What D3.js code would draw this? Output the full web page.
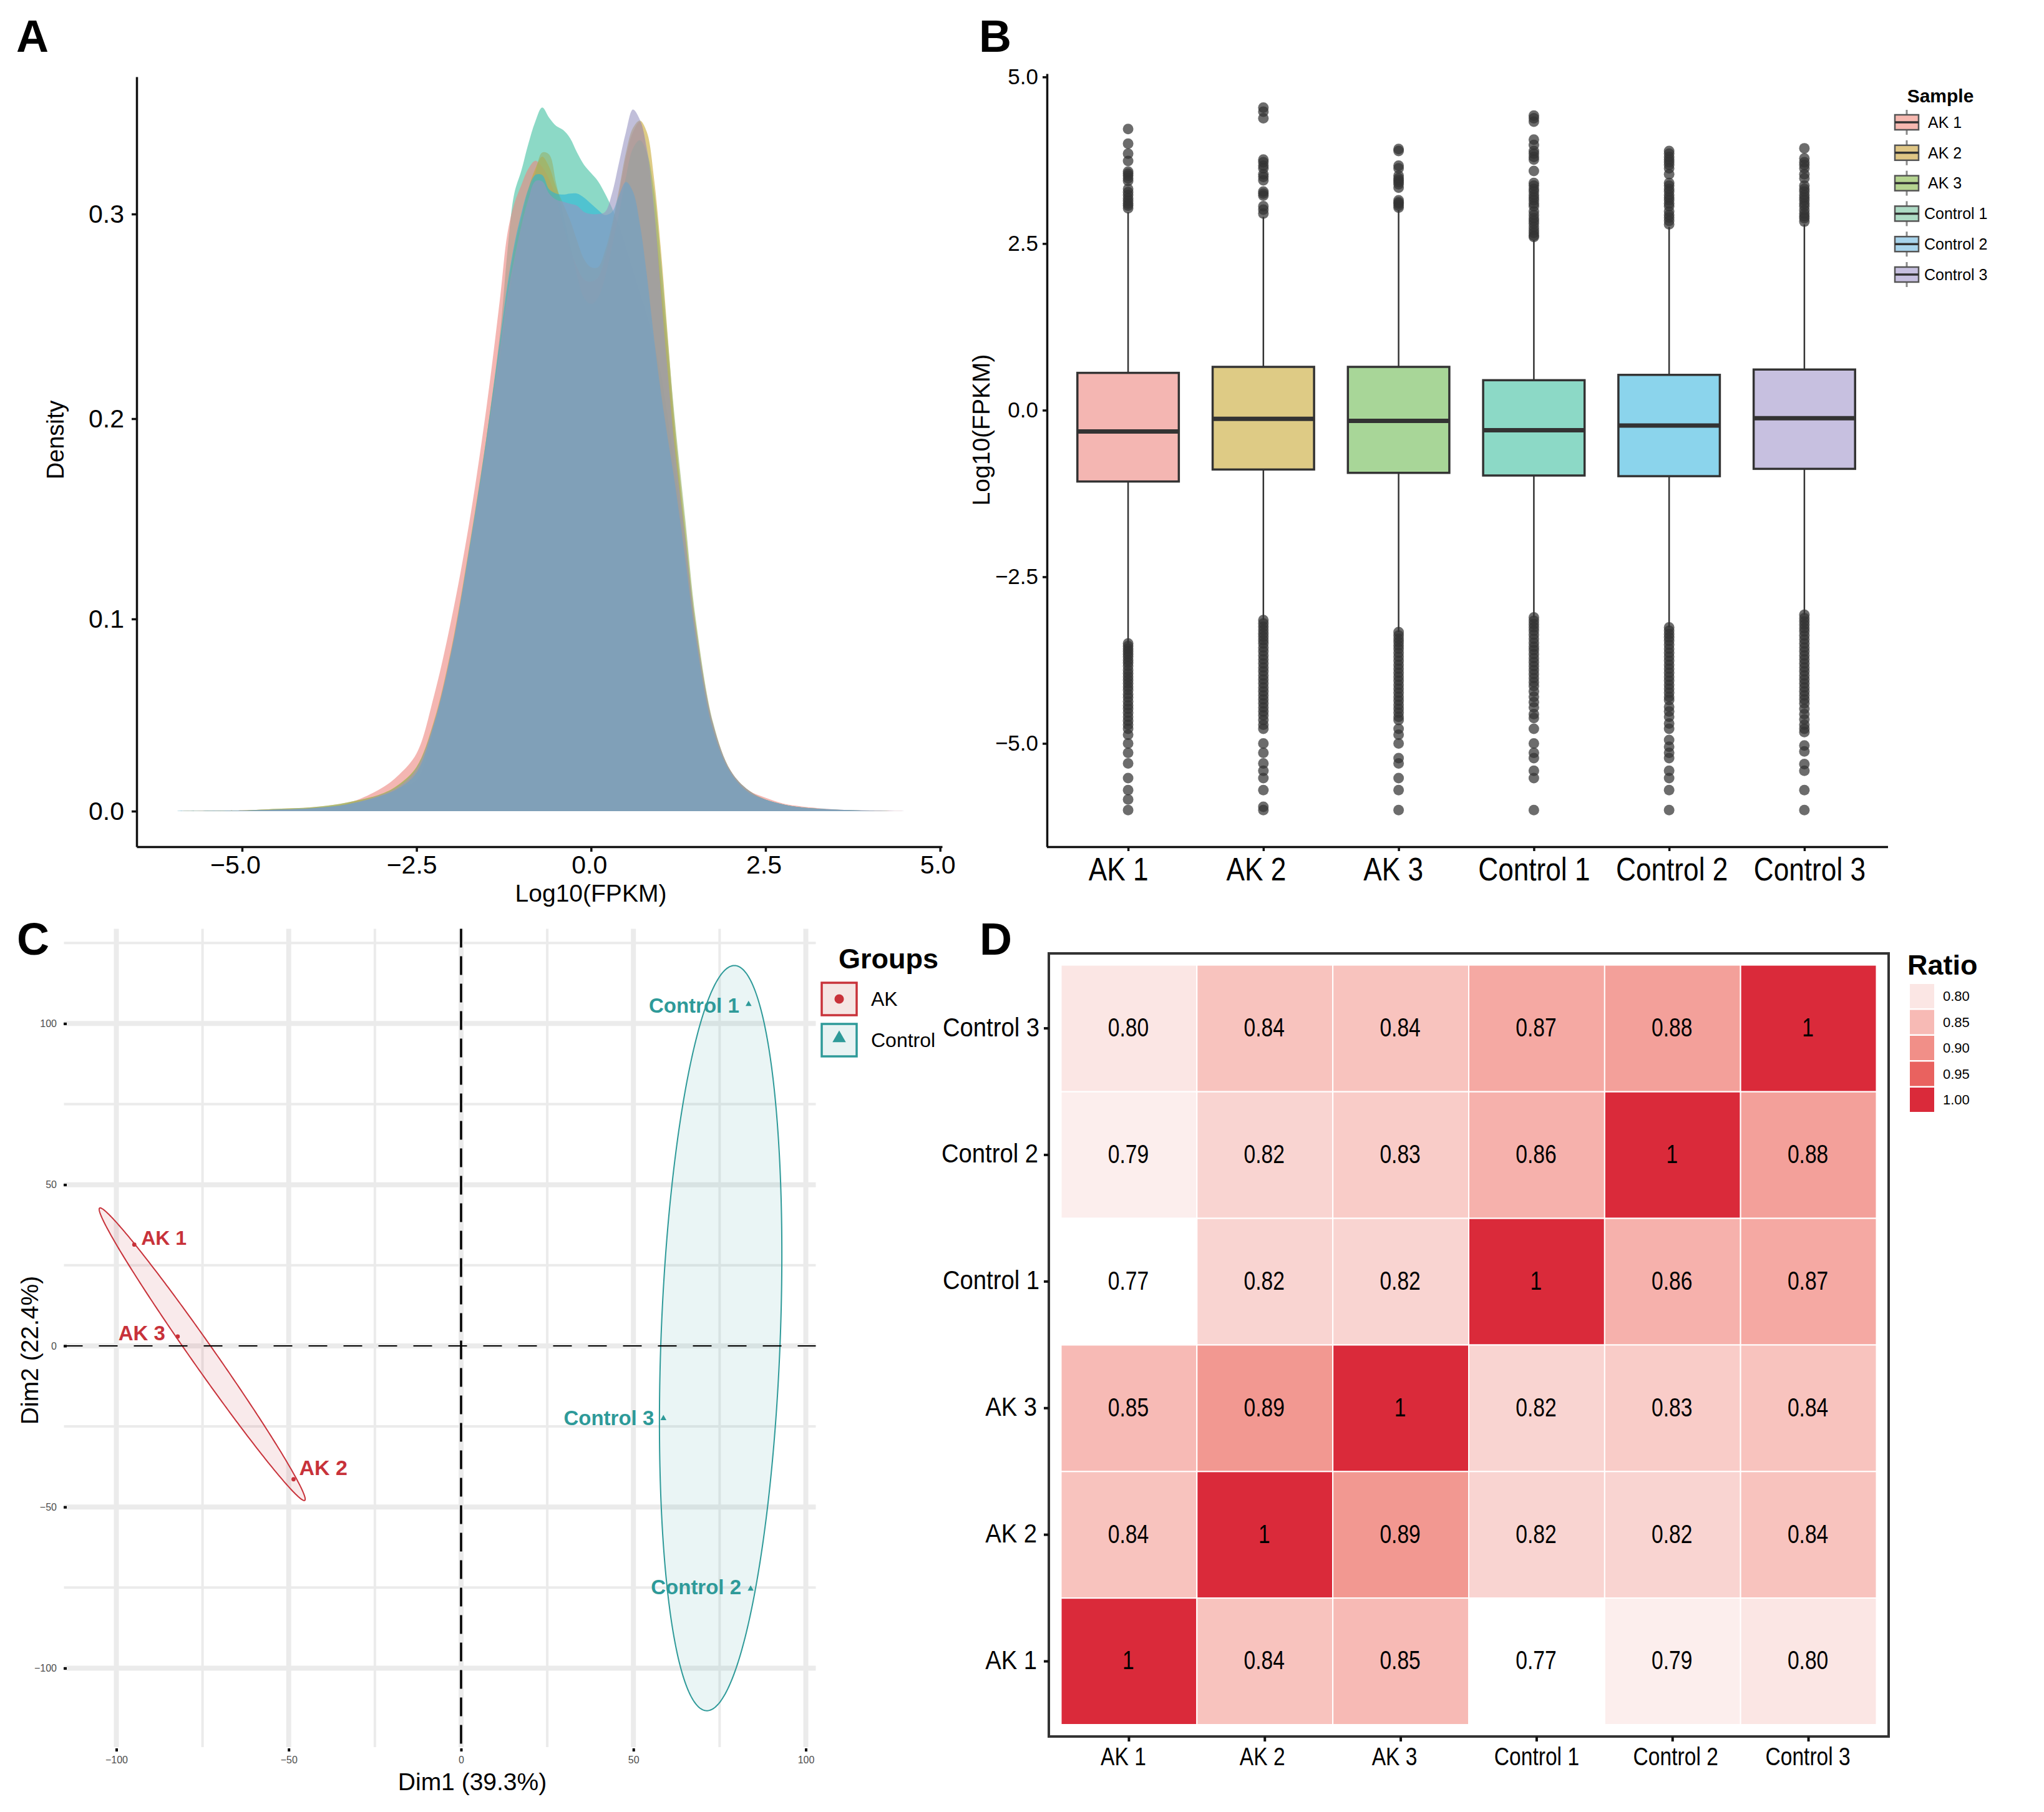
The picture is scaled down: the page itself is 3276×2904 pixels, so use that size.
<!DOCTYPE html>
<html>
<head>
<meta charset="utf-8">
<script src="https://cdn.jsdelivr.net/npm/d3@7"></script>
<style>
  body { margin: 0; background: #fff; }
  svg { display: block; font-family: "Liberation Sans", Arial, sans-serif; }
  text { fill: #000; }
</style>
</head>
<body>
<svg id="fig" width="3276" height="2904"></svg>
<script>
// samples, shared by panels A, B and D
const samples = ["AK 1", "AK 2", "AK 3", "Control 1", "Control 2", "Control 3"];
const densityColors = ["#ed857f", "#c8a834", "#96b26c", "#3fc0a0", "#28b4d7", "#9895c2"];
const sampleColors = ["#e96d65", "#bd970b", "#51ad31", "#19b38d", "#17a9d9", "#8f81c1"];
const legendColors = ["#f6b8b0", "#dfc685", "#b5d491", "#aedbc5", "#a8d4ec", "#c7c0e0"];

// panel A, density curves
const densityX = [-6,-5,-4.5,-4,-3.5,-3,-2.75,-2.5,-2.25,-2,-1.75,-1.5,-1.3,-1.2,-1.1,-1,-.9,-.8,-.7,-.6,-.5,-.4,-.3,-.2,-.1,0,.1,.2,.3,.4,.5,.6,.7,.8,.9,1,1.1,1.2,1.35,1.5,1.75,2,2.25,2.5,2.75,3,3.5,4,4.5];
const densityAK1 = [0,.0004,.001,.0017,.004,.012,.019,.03,.06,.1,.147,.205,.26,.29,.305,.314,.322,.326,.323,.317,.308,.295,.283,.274,.268,.267,.269,.279,.293,.31,.328,.34,.345,.33,.302,.268,.232,.192,.14,.095,.045,.021,.011,.007,.004,.0025,.0009,.0003,0];
const densityAK2 = [0,.0004,.0012,.002,.0045,.009,.014,.023,.047,.085,.135,.19,.238,.262,.283,.298,.312,.322,.328,.323,.313,.305,.297,.287,.278,.274,.274,.282,.295,.312,.33,.342,.3456,.34,.318,.283,.24,.197,.145,.097,.045,.021,.011,.006,.0035,.002,.0007,.0002,0];
const densityAK3 = [0,.0004,.0012,.002,.0045,.009,.014,.023,.046,.083,.132,.186,.23,.253,.275,.293,.307,.32,.33,.329,.315,.3,.285,.27,.259,.256,.259,.269,.284,.3,.318,.332,.336,.33,.312,.278,.238,.2,.15,.1,.046,.021,.011,.006,.0035,.002,.0007,.0002,0];
const densityC1 = [0,.0003,.0008,.0015,.0035,.008,.012,.016,.042,.08,.13,.19,.243,.281,.31,.321,.334,.345,.352,.347,.343,.341,.337,.33,.324,.32,.316,.31,.303,.294,.283,.272,.261,.25,.237,.222,.2,.175,.135,.09,.042,.02,.01,.006,.0035,.002,.0007,.0002,0];
const densityC2 = [0,.0003,.0008,.0015,.0035,.008,.012,.02,.045,.083,.134,.19,.24,.265,.285,.3,.312,.319,.319,.312,.31,.3095,.31,.31,.308,.305,.302,.2995,.301,.309,.3157,.311,.295,.27,.24,.213,.19,.168,.13,.09,.042,.02,.01,.006,.0035,.002,.0008,.0002,0];
const densityC3 = [0,.0003,.0008,.0015,.0035,.0085,.013,.022,.046,.084,.133,.188,.236,.26,.278,.294,.307,.316,.316,.31,.307,.306,.305,.304,.301,.3,.3,.301,.31,.325,.34,.351,.346,.332,.304,.262,.222,.185,.14,.095,.045,.021,.011,.006,.0035,.002,.0008,.0003,0];
const densitySeries = [densityAK1, densityAK2, densityAK3, densityC1, densityC2, densityC3];
const densityOrder = [3, 0, 1, 2, 4, 5];

// panel B, box stats: q3, median, q1, upper whisker, lower whisker
const boxQ3 = [.56, .65, .65, .45, .53, .61];
const boxMedian = [-.32, -.13, -.16, -.3, -.23, -.12];
const boxQ1 = [-1.07, -.89, -.94, -.98, -.99, -.88];
const whiskerTop = [2.97, 2.9, 3.0, 2.55, 2.75, 2.79];
const whiskerBottom = [-3.5, -3.15, -3.33, -3.11, -3.26, -3.07];

const outliersAK1 = [4.22,4,3.85,3.74,3.58,3.55,3.52,3.48,3.44,3.32,3.27,3.23,3.18,3.14,3.1,3.07,3.03,-3.5,-3.54,-3.58,-3.62,-3.66,-3.7,-3.75,-3.79,-3.84,-3.9,-3.95,-4,-4.05,-4.1,-4.15,-4.2,-4.26,-4.31,-4.37,-4.43,-4.48,-4.54,-4.6,-4.66,-4.72,-4.78,-4.87,-5,-5.14,-5.3,-5.52,-5.7,-5.84,-6];
const outliersAK2 = [4.54,4.48,4.38,3.76,3.72,3.67,3.63,3.54,3.5,3.45,3.28,3.25,3.22,3.06,3.01,2.95,-3.15,-3.2,-3.25,-3.3,-3.35,-3.4,-3.45,-3.5,-3.56,-3.62,-3.68,-3.74,-3.8,-3.86,-3.92,-3.98,-4.04,-4.1,-4.16,-4.22,-4.28,-4.34,-4.4,-4.46,-4.52,-4.58,-4.65,-4.72,-4.78,-5,-5.14,-5.3,-5.41,-5.52,-5.7,-5.95,-6];
const outliersAK3 = [3.92,3.89,3.67,3.63,3.52,3.48,3.45,3.42,3.39,3.34,3.15,3.12,3.1,3.07,3.04,-3.33,-3.38,-3.43,-3.48,-3.53,-3.58,-3.64,-3.7,-3.76,-3.82,-3.88,-3.94,-4,-4.06,-4.12,-4.18,-4.24,-4.3,-4.36,-4.42,-4.48,-4.54,-4.6,-4.65,-4.78,-4.87,-5,-5.22,-5.3,-5.52,-5.7,-6];
const outliersC1 = [4.42,4.38,4.33,4.06,3.98,3.89,3.85,3.8,3.76,3.59,3.41,3.37,3.32,3.28,3.23,3.19,3.15,3.1,3.06,2.98,2.93,2.88,2.84,2.8,2.75,2.7,2.66,2.62,2.6,-3.11,-3.16,-3.21,-3.26,-3.31,-3.37,-3.43,-3.49,-3.55,-3.6,-3.66,-3.72,-3.78,-3.84,-3.9,-3.96,-4.02,-4.08,-4.14,-4.22,-4.3,-4.38,-4.46,-4.56,-4.62,-4.78,-5,-5.14,-5.22,-5.41,-5.52,-6];
const outliersC2 = [3.89,3.85,3.8,3.76,3.72,3.68,3.63,3.54,3.41,3.37,3.32,3.28,3.23,3.19,3.15,3.1,3.06,2.98,2.93,2.89,2.84,2.79,-3.26,-3.31,-3.36,-3.41,-3.46,-3.52,-3.58,-3.64,-3.7,-3.76,-3.82,-3.88,-3.94,-4,-4.06,-4.12,-4.18,-4.24,-4.3,-4.35,-4.45,-4.52,-4.6,-4.7,-4.78,-4.95,-5.05,-5.14,-5.22,-5.41,-5.52,-5.7,-6];
const outliersC3 = [3.93,3.78,3.72,3.68,3.63,3.54,3.48,3.37,3.32,3.28,3.23,3.19,3.15,3.1,3.06,3,2.95,2.91,2.88,2.83,-3.07,-3.12,-3.17,-3.22,-3.27,-3.32,-3.38,-3.44,-3.5,-3.56,-3.62,-3.68,-3.74,-3.8,-3.86,-3.92,-3.98,-4.04,-4.1,-4.16,-4.22,-4.28,-4.34,-4.4,-4.48,-4.56,-4.64,-4.72,-4.78,-4.83,-5.03,-5.12,-5.31,-5.41,-5.7,-6];
const outlierSeries = [outliersAK1, outliersAK2, outliersAK3, outliersC1, outliersC2, outliersC3];

// panel C, PCA scores
const pcaNames = ["AK 1", "AK 2", "AK 3", "Control 1", "Control 2", "Control 3"];
const pcaDim1 = [-94.8, -48.6, -82.2, 83.4, 84, 58.7];
const pcaDim2 = [31.4, -41.4, 2.9, 106, -75.4, -22.5];
const pcaGroups = ["AK", "AK", "AK", "Control", "Control", "Control"];
const groupNames = ["AK", "Control"];
const groupColors = ["#c8323a", "#2e9a99"];
const groupFills = ["#f5e5e3", "#e8f3f3"];
// ellipse: centre, vector to the highest point, half of the horizontal chord through the centre
const ellipseCx = [-75.1, 75.3];
const ellipseCy = [-2.6, 2.4];
const ellipseTopDx = [-29.6, 4];
const ellipseTopDy = [45.4, 115.6];
const ellipseChord = [4.1, 17.3];
const gridMajor = [-100, -50, 0, 50, 100];
const gridMinor = [-75, -25, 25, 75];
const gridMinorY = [-75, -25, 25, 75, 125];

// panel D, correlation matrix, rows follow samples from the bottom up
const rowAK1 = [1, .84, .85, .77, .79, .80];
const rowAK2 = [.84, 1, .89, .82, .82, .84];
const rowAK3 = [.85, .89, 1, .82, .83, .84];
const rowC1 = [.77, .82, .82, 1, .86, .87];
const rowC2 = [.79, .82, .83, .86, 1, .88];
const rowC3 = [.80, .84, .84, .87, .88, 1];
const ratioRows = [rowAK1, rowAK2, rowAK3, rowC1, rowC2, rowC3];
const ratioBreaks = [.77, .8, .85, .9, .95, 1];
const ratioColors = ["#ffffff", "#fbe6e4", "#f7bab5", "#f18f88", "#e9625f", "#da2a3a"];
const ratioLegend = [.8, .85, .9, .95, 1];

const svg = d3.select("#fig");

function panelLetter(t, x, y) {
  svg.append("text").attr("x", x).attr("y", y).attr("font-size", 72).attr("font-weight", "bold").text(t);
}
panelLetter("A", 26, 83);
panelLetter("B", 1569, 83);
panelLetter("C", 27, 1530);
panelLetter("D", 1570, 1530);

// squeezes axis labels sideways, the source panels were resized unevenly
function fitLabels(g, size, k, y, dxs) {
  g.selectAll(".tick text")
    .attr("font-size", size)
    .attr("x", 0)
    .attr("y", y)
    .attr("dy", "0.32em")
    .attr("transform", (d, i) => "translate(" + (dxs ? dxs[i] : 0) + ",0) scale(" + k + ",1)");
}

function styleAxis(g, w) {
  g.selectAll("path,line").attr("stroke", "#111").attr("stroke-width", w);
  g.selectAll("text").style("fill", "#000").attr("font-family", "inherit");
}

/* ---------- panel A ---------- */
const xA = d3.scaleLinear().domain([-6.51, 5.03]).range([219, 1510]);
const yA = d3.scaleLinear().domain([-.0185, 0, .1, .2, .3, .367]).range([1357, 1300, 992, 671, 343, 123]);

const area = d3.area()
  .x((d, i) => xA(densityX[i]))
  .y0(yA(0))
  .y1(d => yA(d))
  .curve(d3.curveCatmullRom.alpha(.5));

svg.append("g").selectAll("path")
  .data(densityOrder)
  .join("path")
  .attr("d", k => area(densitySeries[k]))
  .attr("fill", k => densityColors[k])
  .attr("fill-opacity", .6);

const axA = svg.append("g").attr("transform", "translate(0,1357)")
  .call(d3.axisBottom(xA).tickValues([-5, -2.5, 0, 2.5, 5]).tickFormat(d3.format(".1f")).tickSize(8).tickSizeOuter(0));
styleAxis(axA, 3.5);
fitLabels(axA, 41, 1, 30, [-11, -8, -3, -3, -4]);

const ayA = svg.append("g").attr("transform", "translate(219,0)")
  .call(d3.axisLeft(yA).tickValues([0, .1, .2, .3]).tickFormat(d3.format(".1f")).tickSize(8).tickSizeOuter(0).tickPadding(12));
styleAxis(ayA, 3.5);
ayA.selectAll(".tick text").attr("font-size", 41);

svg.append("text").attr("x", 947).attr("y", 1445).attr("text-anchor", "middle").attr("font-size", 39).text("Log10(FPKM)");
svg.append("text").attr("transform", "translate(102,705) rotate(-90)").attr("text-anchor", "middle").attr("font-size", 38).text("Density");

/* ---------- panel B ---------- */
const xB = d3.scalePoint().domain(samples).range([1678, 3022]).padding(.6);
const yB = d3.scaleLinear().domain([5.05, -6.55]).range([118, 1357]);
const boxW = xB.step() * .75;

const boxG = svg.append("g").selectAll("g")
  .data(samples)
  .join("g")
  .attr("transform", d => "translate(" + xB(d) + ",0)");

boxG.append("line")
  .attr("y1", (d, i) => yB(whiskerTop[i])).attr("y2", (d, i) => yB(whiskerBottom[i]))
  .attr("stroke", "#333").attr("stroke-width", 2.5);
boxG.each(function (d, i) {
  d3.select(this).selectAll("circle")
    .data(outlierSeries[i])
    .join("circle")
    .attr("cy", v => yB(v))
    .attr("r", 8.5)
    .attr("fill", "#333")
    .attr("fill-opacity", .72);
});
boxG.append("rect")
  .attr("x", -boxW / 2).attr("width", boxW)
  .attr("y", (d, i) => yB(boxQ3[i]))
  .attr("height", (d, i) => yB(boxQ1[i]) - yB(boxQ3[i]))
  .attr("fill", "#fff").attr("stroke", "none");
boxG.append("rect")
  .attr("x", -boxW / 2).attr("width", boxW)
  .attr("y", (d, i) => yB(boxQ3[i]))
  .attr("height", (d, i) => yB(boxQ1[i]) - yB(boxQ3[i]))
  .attr("fill", (d, i) => sampleColors[i]).attr("fill-opacity", .5)
  .attr("stroke", "#333").attr("stroke-width", 3.5);
boxG.append("line")
  .attr("x1", -boxW / 2).attr("x2", boxW / 2)
  .attr("y1", (d, i) => yB(boxMedian[i])).attr("y2", (d, i) => yB(boxMedian[i]))
  .attr("stroke", "#333").attr("stroke-width", 7);

const axB = svg.append("g").attr("transform", "translate(0,1357)")
  .call(d3.axisBottom(xB).tickSize(7).tickSizeOuter(0));
axB.select(".domain").attr("d", "M1678,0.5H3026");
styleAxis(axB, 3.5);
fitLabels(axB, 52, .85, 37, [-16, -12, -9, 0, 4, 8]);

const ayB = svg.append("g").attr("transform", "translate(1678,0)")
  .call(d3.axisLeft(yB).tickValues([5, 2.5, 0, -2.5, -5]).tickFormat(d3.format(".1f")).tickSize(7).tickSizeOuter(0).tickPadding(7));
styleAxis(ayB, 3.5);
ayB.selectAll(".tick text").attr("font-size", 35);

svg.append("text").attr("transform", "translate(1586,689) rotate(-90)").attr("text-anchor", "middle").attr("font-size", 39).text("Log10(FPKM)");

// legend of B
svg.append("text").attr("x", 3110).attr("y", 164).attr("text-anchor", "middle").attr("font-size", 30).attr("font-weight", "bold").text("Sample");
const legB = svg.append("g").selectAll("g")
  .data(samples)
  .join("g")
  .attr("transform", (d, i) => "translate(3056," + d3.scaleLinear().domain([0, 5]).range([196, 440])(i) + ")");
legB.append("line").attr("y1", -20).attr("y2", 20).attr("stroke", "#8a8a8a").attr("stroke-width", 3);
legB.append("rect").attr("x", -19).attr("y", -12).attr("width", 38).attr("height", 24)
  .attr("fill", (d, i) => legendColors[i]).attr("stroke", "#555").attr("stroke-width", 2.5);
legB.append("line").attr("x1", -19).attr("x2", 19).attr("stroke", "#333").attr("stroke-width", 3.5);
legB.append("text")
  .attr("x", (d, i) => i < 3 ? 34 : 28).attr("dy", "0.35em").attr("font-size", 25).text(d => d);

/* ---------- panel C ---------- */
const xC = d3.scaleLinear().domain([-115.2, 102.9]).range([102.5, 1307.5]);
const yC = d3.scaleLinear().domain([-124.5, 129.4]).range([2800, 1488.5]);

const gridC = svg.append("g").attr("stroke", "#ebebeb");
gridC.selectAll(".vmaj").data(gridMajor).join("line").attr("class", "vmaj")
  .attr("x1", d => xC(d)).attr("x2", d => xC(d)).attr("y1", 1488.5).attr("y2", 2800).attr("stroke-width", 8);
gridC.selectAll(".vmin").data(gridMinor).join("line").attr("class", "vmin")
  .attr("x1", d => xC(d)).attr("x2", d => xC(d)).attr("y1", 1488.5).attr("y2", 2800).attr("stroke-width", 4);
gridC.selectAll(".hmaj").data(gridMajor).join("line").attr("class", "hmaj")
  .attr("y1", d => yC(d)).attr("y2", d => yC(d)).attr("x1", 102.5).attr("x2", 1307.5).attr("stroke-width", 8);
gridC.selectAll(".hmin").data(gridMinorY).join("line").attr("class", "hmin")
  .attr("y1", d => yC(d)).attr("y2", d => yC(d)).attr("x1", 102.5).attr("x2", 1307.5).attr("stroke-width", 4);

const ellipseLine = d3.line().x(p => xC(p[0])).y(p => yC(p[1])).curve(d3.curveLinearClosed);
svg.append("g").selectAll("path")
  .data(groupNames)
  .join("path")
  .attr("d", (d, g) => ellipseLine(d3.range(0, 2 * Math.PI, .02).map(t => [
    ellipseCx[g] + ellipseTopDx[g] * Math.cos(t) + ellipseChord[g] * Math.sin(t),
    ellipseCy[g] + ellipseTopDy[g] * Math.cos(t)
  ])))
  .attr("fill", (d, g) => groupColors[g]).attr("fill-opacity", .1)
  .attr("stroke", (d, g) => groupColors[g]).attr("stroke-width", 2);

svg.append("line").attr("x1", xC(0)).attr("x2", xC(0)).attr("y1", 1488.5).attr("y2", 2800)
  .attr("stroke", "#000").attr("stroke-width", 3.5).attr("stroke-dasharray", "30 14");
svg.append("line").attr("x1", 102.5).attr("x2", 1307.5).attr("y1", yC(0)).attr("y2", yC(0))
  .attr("stroke", "#000").attr("stroke-width", 2).attr("stroke-dasharray", "30 26");

const triangle = d3.symbol().type(d3.symbolTriangle);
svg.append("g").selectAll("path")
  .data(pcaNames)
  .join("path")
  .attr("transform", (d, i) => "translate(" + xC(pcaDim1[i]) + "," + yC(pcaDim2[i]) + ")")
  .attr("d", (d, i) => pcaGroups[i] === "AK" ? d3.symbol().type(d3.symbolCircle).size(36)() : triangle.size(40)())
  .attr("fill", (d, i) => groupColors[groupNames.indexOf(pcaGroups[i])]);

// label offsets from each point, layout only
const labelDx = [11, 9, -20, -15, -15, -15];
const labelDy = [-11, -19, -5, 2, -3, -1];
const labelAnchor = ["start", "start", "end", "end", "end", "end"];
const labelSize = [32, 34, 33, 33, 33, 33];
svg.append("g").selectAll("text")
  .data(pcaNames)
  .join("text")
  .attr("x", (d, i) => xC(pcaDim1[i]) + labelDx[i])
  .attr("y", (d, i) => yC(pcaDim2[i]) + labelDy[i])
  .attr("dy", "0.35em")
  .attr("text-anchor", (d, i) => labelAnchor[i])
  .attr("font-size", (d, i) => labelSize[i]).attr("font-weight", "bold")
  .style("fill", (d, i) => groupColors[groupNames.indexOf(pcaGroups[i])])
  .text(d => d);

const axC = svg.append("g").attr("transform", "translate(0,2802)")
  .call(d3.axisBottom(xC).tickValues(gridMajor).tickSize(5).tickSizeOuter(0).tickPadding(8));
const ayC = svg.append("g").attr("transform", "translate(107,0)")
  .call(d3.axisLeft(yC).tickValues(gridMajor).tickSize(5).tickSizeOuter(0).tickPadding(11));
[axC, ayC].forEach(g => {
  g.select(".domain").remove();
  g.selectAll("line").attr("stroke", "#000").attr("stroke-width", 4);
  g.selectAll("text").attr("font-size", 16).style("fill", "#4d4d4d");
});

svg.append("text").attr("x", 757).attr("y", 2869).attr("text-anchor", "middle").attr("font-size", 39).text("Dim1 (39.3%)");
svg.append("text").attr("transform", "translate(61,2164) rotate(-90)").attr("text-anchor", "middle").attr("font-size", 39).text("Dim2 (22.4%)");

// legend of C
svg.append("text").attr("x", 1344).attr("y", 1552).attr("font-size", 45).attr("font-weight", "bold").text("Groups");
const legC = svg.append("g").selectAll("g")
  .data(groupNames)
  .join("g")
  .attr("transform", (d, i) => "translate(1345," + d3.scaleLinear().domain([0, 1]).range([1601, 1667])(i) + ")");
legC.append("rect").attr("x", -28).attr("y", -26).attr("width", 56).attr("height", 52)
  .attr("fill", (d, i) => groupFills[i]).attr("stroke", (d, i) => groupColors[i]).attr("stroke-width", 3.5);
legC.append("path")
  .attr("d", (d, i) => i === 0 ? d3.symbol().type(d3.symbolCircle).size(180)() : d3.symbol().type(d3.symbolTriangle).size(200)())
  .attr("transform", (d, i) => i === 0 ? "" : "translate(0,-3)")
  .attr("fill", (d, i) => groupColors[i]);
legC.append("text").attr("x", 51).attr("dy", "0.35em").attr("font-size", 32).text(d => d);

/* ---------- panel D ---------- */
const xD = d3.scaleBand().domain(samples).range([1700.5, 3007.5]);
const yD = d3.scaleBand().domain(samples).range([2764, 1546.6]);
const ratioColor = d3.scaleLinear().domain(ratioBreaks).range(ratioColors).clamp(true);

const rowsD = svg.append("g").selectAll("g")
  .data(ratioRows)
  .join("g")
  .attr("transform", (d, i) => "translate(0," + yD(samples[i]) + ")");
rowsD.selectAll("rect")
  .data(d => d)
  .join("rect")
  .attr("x", (d, i) => xD(samples[i]))
  .attr("width", xD.bandwidth())
  .attr("height", yD.bandwidth())
  .attr("fill", d => ratioColor(d))
  .attr("stroke", "#fff").attr("stroke-width", 2);
rowsD.selectAll("text")
  .data(d => d)
  .join("text")
  .attr("text-anchor", "middle")
  .attr("font-size", 42)
  .attr("dy", "0.33em")
  .attr("transform", (d, i) => "translate(" + (xD(samples[i]) + xD.bandwidth() / 2 - 1) + "," + (yD.bandwidth() / 2 - 1) + ") scale(.8,1)")
  .text(d => d === 1 ? "1" : d3.format(".2f")(d));

svg.append("rect").attr("x", 1681).attr("y", 1528).attr("width", 1346).attr("height", 1255)
  .attr("fill", "none").attr("stroke", "#333").attr("stroke-width", 4);

const axD = svg.append("g").attr("transform", "translate(0,2783)")
  .call(d3.axisBottom(xD).tickSize(8).tickSizeOuter(0));
axD.select(".domain").remove();
styleAxis(axD, 4);
fitLabels(axD, 40, .84, 33, [-9, -4, -10, 0, 5, -1]);

const ayD = svg.append("g").attr("transform", "translate(1681,0)")
  .call(d3.axisLeft(yD).tickSize(8).tickSizeOuter(0).tickPadding(7));
ayD.select(".domain").remove();
styleAxis(ayD, 4);
const leftLabelDx = [-19, -19, -19, -15, -17, -15];
ayD.selectAll(".tick text").attr("font-size", 42).attr("x", 0).attr("dy", "0.32em")
  .attr("transform", (d, i) => "translate(" + leftLabelDx[i] + ",-1) scale(.91,1)");

// legend of D
svg.append("text").attr("x", 3057).attr("y", 1562).attr("font-size", 45).attr("font-weight", "bold").text("Ratio");
const legD = svg.append("g").selectAll("g")
  .data(ratioLegend)
  .join("g")
  .attr("transform", (d, i) => "translate(3061," + d3.scaleLinear().domain([0, 4]).range([1577, 1743])(i) + ")");
legD.append("rect").attr("width", 39).attr("height", 39).attr("fill", d => ratioColor(d));
legD.append("text").attr("x", 53).attr("y", 19.5).attr("dy", "0.35em").attr("font-size", 22).text(d => d3.format(".2f")(d));
</script>
</body>
</html>
